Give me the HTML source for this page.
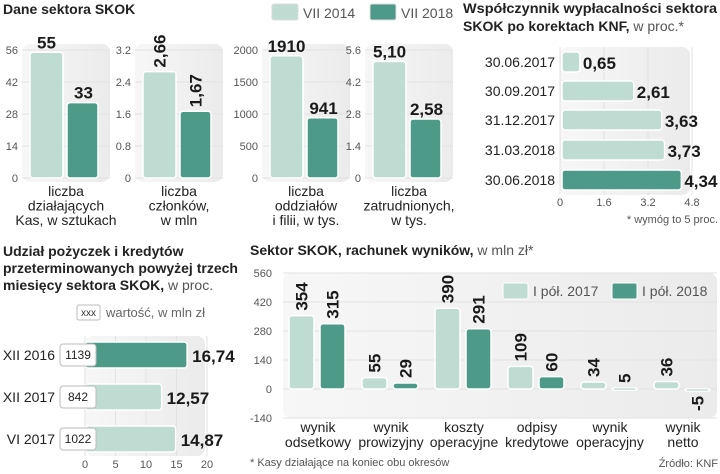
<!DOCTYPE html>
<html><head><meta charset="utf-8">
<style>
body{margin:0;background:#fff;}
svg{display:block;font-family:"Liberation Sans",sans-serif;}
.t{font-weight:bold;font-size:14px;fill:#222;}
.tn{font-weight:normal;fill:#555;}
.tick{font-size:11px;fill:#555;}
.val{font-family:"Liberation Sans Narrow","Liberation Sans",sans-serif;font-weight:bold;font-size:17px;fill:#1a1a1a;}
.cat{font-size:14px;fill:#222;}
</style></head>
<body>
<svg id="s" width="720" height="474" viewBox="0 0 720 474" xmlns="http://www.w3.org/2000/svg">
<defs>
<linearGradient id="bg" x1="0" y1="0" x2="1" y2="0"><stop offset="0" stop-color="#f7f7f7"/><stop offset="1" stop-color="#ebebeb"/></linearGradient>
</defs>
<text x="3" y="14" class="t">Dane sektora SKOK</text>
<rect x="272" y="4" width="26" height="16" rx="2" fill="#bfdcd2" stroke="#ddd"/>
<text x="303" y="18" font-size="14" fill="#555">VII 2014</text>
<rect x="370" y="4" width="26" height="16" rx="2" fill="#4e9a88" stroke="#ddd"/>
<text x="401" y="18" font-size="14" fill="#555">VII 2018</text>

<text x="463" y="13" class="t" textLength="254" lengthAdjust="spacingAndGlyphs">Współczynnik wypłacalności sektora</text>
<text x="463" y="31" class="t">SKOK po korektach KNF,<tspan class="tn"> w proc.*</tspan></text>
<text x="718" y="223" text-anchor="end" font-size="11" fill="#555">* wymóg to 5 proc.</text>

<text x="3" y="256" class="t">Udział pożyczek i kredytów</text>
<text x="3" y="273" class="t">przeterminowanych powyżej trzech</text>
<text x="3" y="290" class="t">miesięcy sektora SKOK,<tspan class="tn"> w proc.</tspan></text>
<rect x="77" y="305" width="23" height="15" rx="2" fill="#fff" stroke="#bbb"/>
<text x="88.5" y="316" text-anchor="middle" font-size="10" fill="#333">xxx</text>
<text x="106" y="317" font-size="13" fill="#666">wartość, w mln zł</text>

<text x="250" y="255" class="t">Sektor SKOK, rachunek wyników,<tspan class="tn"> w mln zł*</tspan></text>
<text x="250" y="466" font-size="11" fill="#555">* Kasy działające na koniec obu okresów</text>
<text x="718" y="467" text-anchor="end" font-size="11" fill="#555">Źródło: KNF</text>
</svg>
<script>
// Panel 1 data
const p1Labels=[["liczba","działających","Kas, w sztukach"],["liczba","członków,","w mln"],["liczba","oddziałów","i filii, w tys."],["liczba","zatrudnionych,","w tys."]];
const p1V2014=[55,2.66,1910,5.10];
const p1V2018=[33,1.67,941,2.58];
const p1Max=[56,3.2,2000,5.6];
const p1Ticks=[["0","14","28","42","56"],["0","0.8","1.6","2.4","3.2"],["0","500","1000","1500","2000"],["0","1.4","2.8","4.2","5.6"]];
const p1Text2014=["55","2,66","1910","5,10"];
const p1Text2018=["33","1,67","941","2,58"];
const p1Rotated=[false,true,false,false];
// Panel 2 data
const p2Cats=["30.06.2017","30.09.2017","31.12.2017","31.03.2018","30.06.2018"];
const p2Vals=[0.65,2.61,3.63,3.73,4.34];
const p2Text=["0,65","2,61","3,63","3,73","4,34"];
const p2Ticks=[0,1.6,3.2,4.8];
const p2TickText=["0","1.6","3.2","4.8"];
// Panel 3 data
const p3Cats=["XII 2016","XII 2017","VI 2017"];
const p3Vals=[16.74,12.57,14.87];
const p3Text=["16,74","12,57","14,87"];
const p3Amounts=["1139","842","1022"];
const p3Ticks=[0,5,10,15,20];
// Panel 4 data
const p4Cats=[["wynik","odsetkowy"],["wynik","prowizyjny"],["koszty","operacyjne"],["odpisy","kredytowe"],["wynik","operacyjny"],["wynik","netto"]];
const p4V2017=[354,55,390,109,34,36];
const p4V2018=[315,29,291,60,5,-5];
const p4Ticks=[-140,0,140,280,420,560];

const S=document.getElementById('s');
const NS='http://www.w3.org/2000/svg';
function mk(tag,attrs,txt){const el=document.createElementNS(NS,tag);for(const k in attrs)el.setAttribute(k,attrs[k]);if(txt!==undefined)el.textContent=txt;S.appendChild(el);return el;}
const L='#bfdcd2',D='#4e9a88';
let e;

// Panel 1
const p1X=[22,135,262,365];
const p1Y0=178,p1H=128;
p1X.forEach((x0,i)=>{
  const w=88;
  e=mk('rect',{x:x0,y:44,width:w,height:138,rx:8,fill:'url(#bg)'});
  
  
  const yS=v=>p1Y0-v/p1Max[i]*p1H;
  p1Ticks[i].forEach((t,k)=>{
    const v=p1Max[i]*k/4,y=yS(v);
    mk('line',{x1:x0,x2:x0+w,y1:y,y2:y,stroke:'#e2e2e2'});
    e=mk('text',{x:x0-4,y:y+4,'text-anchor':'end','class':'tick'},t);
    
    
  });
  const bx1=x0+8,bx2=x0+45,bw=33;
  const y1=yS(p1V2014[i]),y2=yS(p1V2018[i]);
  e=mk('rect',{x:bx1,y:y1,width:bw,height:p1Y0-y1,rx:3,fill:L,stroke:'#fff','stroke-width':1.5});
  
  
  e=mk('rect',{x:bx2,y:y2,width:bw-2,height:p1Y0-y2,rx:3,fill:D,stroke:'#fff','stroke-width':1.5});
  
  
  if(p1Rotated[i]){
    e=mk('text',{x:0,y:0,'class':'val',transform:`translate(${bx1+bw/2+6},${y1-4}) rotate(-90)`},p1Text2014[i]);
    
    
    e=mk('text',{x:0,y:0,'class':'val',transform:`translate(${bx2+bw/2+5},${y2-4}) rotate(-90)`},p1Text2018[i]);
    
    
  }else{
    e=mk('text',{x:bx1+bw/2,y:y1-4,'text-anchor':'middle','class':'val'},p1Text2014[i]);
    
    
    e=mk('text',{x:bx2+bw/2,y:y2-4,'text-anchor':'middle','class':'val'},p1Text2018[i]);
    
    
  }
  p1Labels[i].forEach((l,k)=>{
    e=mk('text',{x:x0+w/2,y:196+k*14.5,'text-anchor':'middle','class':'cat'},l);
    
    
  });
});

// Panel 2
const p2X0=560,p2Sc=27.5,p2Rows=[62,91,120,150,180];
e=mk('rect',{x:p2X0,y:47,width:130,height:148,rx:8,fill:'url(#bg)'});


p2Ticks.forEach((t,k)=>{
  const x=p2X0+t*p2Sc;
  mk('line',{x1:x,x2:x,y1:47,y2:195,stroke:'#e2e2e2'});
  e=mk('text',{x:x,y:206,'text-anchor':'middle','class':'tick'},p2TickText[k]);
  
  
});
p2Cats.forEach((c,i)=>{
  const y=p2Rows[i],w=p2Vals[i]*p2Sc,last=i===p2Cats.length-1;
  e=mk('text',{x:555,y:y+5,'text-anchor':'end','font-size':14,fill:'#222'},c);
  
  
  e=mk('rect',{x:p2X0+2,y:y-10,width:w,height:20,rx:3,fill:last?D:L,stroke:'#fff','stroke-width':1.5});
  
  
  e=mk('text',{x:p2X0+w+5,y:y+7,'class':'val','font-size':16},p2Text[i]);
  
  
});

// Panel 3
const p3X0=85,p3Sc=6.1,p3Rows=[355,397,439];
e=mk('rect',{x:p3X0,y:336,width:120,height:120,rx:8,fill:'url(#bg)'});


p3Ticks.forEach(t=>{
  const x=p3X0+t*p3Sc;
  mk('line',{x1:x,x2:x,y1:336,y2:456,stroke:'#e2e2e2'});
  e=mk('text',{x:x,y:468,'text-anchor':'middle','class':'tick'},String(t));
  
  
});
p3Cats.forEach((c,i)=>{
  const y=p3Rows[i],w=p3Vals[i]*p3Sc;
  e=mk('text',{x:55,y:y+5,'text-anchor':'end','font-size':14,fill:'#222'},c);
  
  
  e=mk('rect',{x:p3X0,y:y-13,width:w,height:26,rx:3,fill:i===0?D:L,stroke:'#fff','stroke-width':1.5});
  
  
  e=mk('rect',{x:60,y:y-11,width:36,height:22,rx:3,fill:'#fff',stroke:'#bbb'});
  
  
  e=mk('text',{x:78,y:y+4,'text-anchor':'middle','font-size':12,fill:'#222'},p3Amounts[i]);
  
  
  e=mk('text',{x:p3X0+w+5,y:y+7,'class':'val','font-size':19},p3Text[i]);
  
  
});

// Panel 4
const p4Y=v=>389-v*(116/560),p4X0=283,p4Step=73,p4C0=318;
e=mk('rect',{x:p4X0,y:p4Y(560),width:434,height:p4Y(-140)-p4Y(560),rx:8,fill:'url(#bg)'});


p4Ticks.forEach(t=>{
  const y=p4Y(t);
  mk('line',{x1:p4X0,x2:717,y1:y,y2:y,stroke:'#e2e2e2'});
  e=mk('text',{x:272,y:y+4,'text-anchor':'end','class':'tick'},String(t));
  
  
});
e=mk('rect',{x:503,y:283,width:25,height:16,rx:2,fill:L,stroke:'#fff'});


e=mk('text',{x:533,y:296,'font-size':14,fill:'#555'},'I pół. 2017');


e=mk('rect',{x:612,y:283,width:25,height:16,rx:2,fill:D,stroke:'#fff'});


e=mk('text',{x:642,y:296,'font-size':14,fill:'#555'},'I pół. 2018');


p4Cats.forEach((c,i)=>{
  const cx=p4C0+i*p4Step,bw=25;
  [[p4V2017[i],L,cx-29,'2017'],[p4V2018[i],D,cx+2,'2018']].forEach(([v,col,x,nm])=>{
    const y=Math.min(p4Y(v),p4Y(0)),h=Math.max(Math.abs(p4Y(v)-p4Y(0)),2);
    e=mk('rect',{x:x,y:y,width:bw,height:h,rx:3,fill:col,stroke:'#fff','stroke-width':1.5});
    
    
    const tx=x+bw/2+6;
    const ty=v>=0?p4Y(v)-5:p4Y(0)+4+String(v).length*9;
    e=mk('text',{x:0,y:0,'class':'val',transform:`translate(${tx},${ty}) rotate(-90)`},String(v));
    
    
  });
  c.forEach((l,k)=>{
    e=mk('text',{x:cx,y:432+k*15,'text-anchor':'middle','class':'cat'},l);
    
    
  });
});
</script>
</body></html>
